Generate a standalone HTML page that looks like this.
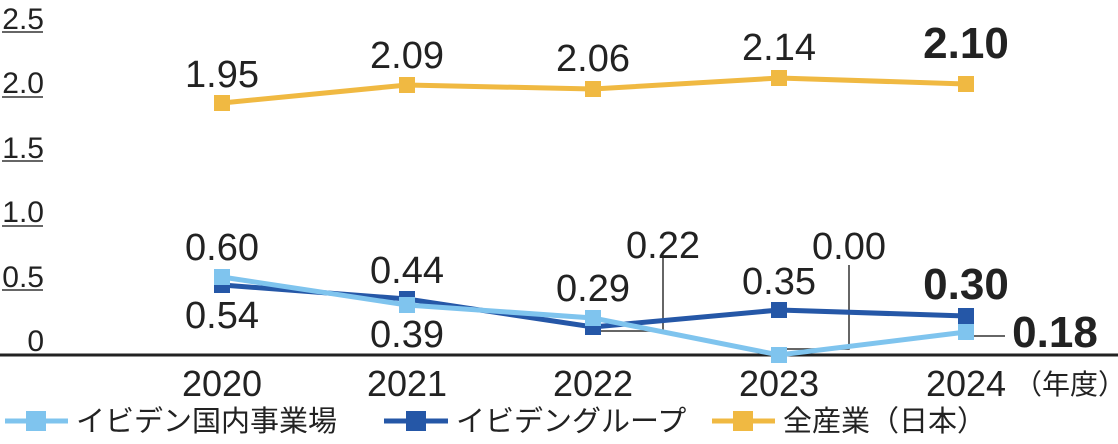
<!DOCTYPE html>
<html><head><meta charset="utf-8"><style>
body{margin:0;background:#fff}
svg text{font-family:"Liberation Sans","Noto Sans CJK JP",sans-serif;fill:#222}
.ax{font-size:30px}
</style></head><body>
<svg width="1118" height="439" viewBox="0 0 1118 439">
<g text-anchor="end">
<text class="ax" x="44" y="29">2.5</text><text class="ax" x="44" y="93">2.0</text><text class="ax" x="44" y="158">1.5</text><text class="ax" x="44" y="222">1.0</text><text class="ax" x="44" y="287">0.5</text><text class="ax" x="44" y="351">0</text>
</g>
<g stroke="#333" stroke-width="1.5">
<line x1="2" y1="32" x2="43" y2="32"/><line x1="2" y1="97" x2="43" y2="97"/><line x1="2" y1="161" x2="43" y2="161"/><line x1="2" y1="226" x2="43" y2="226"/><line x1="2" y1="290" x2="43" y2="290"/>
</g>
<line x1="0" y1="355" x2="1118" y2="355" stroke="#222" stroke-width="3"/>
<g stroke="#333" stroke-width="1.5" fill="none">
<polyline points="600,331 663,331 663,258"/>
<polyline points="784,349 849,349 849,265"/>
<line x1="973" y1="336" x2="1005" y2="336"/>
</g>
<polyline points="222,103 407,85 593,89 779,78 966,84" fill="none" stroke="#f0b942" stroke-width="5"/>
<polyline points="222,285 407,299 593,327 779,310 966,316" fill="none" stroke="#2557a7" stroke-width="5"/>
<polyline points="222,277 407,305 593,318 779,355 966,332" fill="none" stroke="#7fc4ee" stroke-width="5"/>
<g fill="#f0b942"><rect x="214" y="95" width="16" height="16"/><rect x="399" y="77" width="16" height="16"/><rect x="585" y="81" width="16" height="16"/><rect x="771" y="70" width="16" height="16"/><rect x="958" y="76" width="16" height="16"/></g>
<g fill="#2557a7"><rect x="214" y="277" width="16" height="16"/><rect x="399" y="291" width="16" height="16"/><rect x="585" y="319" width="16" height="16"/><rect x="771" y="302" width="16" height="16"/><rect x="958" y="308" width="16" height="16"/></g>
<g fill="#7fc4ee"><rect x="214" y="269" width="16" height="16"/><rect x="399" y="297" width="16" height="16"/><rect x="585" y="310" width="16" height="16"/><rect x="771" y="347" width="16" height="16"/><rect x="958" y="324" width="16" height="16"/></g>
<g font-size="38" text-anchor="middle">
<text x="222" y="87">1.95</text><text x="407" y="68">2.09</text><text x="593" y="71">2.06</text><text x="779" y="60">2.14</text>
<text x="222" y="260">0.60</text><text x="222" y="328">0.54</text>
<text x="407" y="283">0.44</text><text x="407" y="347">0.39</text>
<text x="593" y="301">0.29</text><text x="663" y="258">0.22</text>
<text x="779" y="294">0.35</text><text x="849" y="259">0.00</text>
</g>
<g font-size="44" font-weight="bold" text-anchor="middle">
<text x="966" y="58">2.10</text><text x="966" y="299">0.30</text>
<text x="1055" y="347">0.18</text>
</g>
<g font-size="36" text-anchor="middle">
<text x="222" y="396">2020</text><text x="407" y="396">2021</text><text x="593" y="396">2022</text><text x="779" y="396">2023</text><text x="966" y="396">2024</text>
</g>
<text x="1070" y="394" font-size="28" text-anchor="middle">（年度）</text>
<g stroke-width="5"><line x1="5" y1="421" x2="68" y2="421" stroke="#7fc4ee"/><line x1="384" y1="421" x2="448" y2="421" stroke="#2557a7"/><line x1="712" y1="421" x2="775" y2="421" stroke="#f0b942"/></g>
<rect x="26" y="411" width="20" height="20" fill="#7fc4ee"/><rect x="406" y="411" width="20" height="20" fill="#2557a7"/><rect x="733" y="411" width="20" height="20" fill="#f0b942"/>
<g font-size="29"><text x="76" y="431">イビデン国内事業場</text><text x="456" y="431">イビデングループ</text><text x="783" y="431">全産業（日本）</text></g>
</svg>
</body></html>
